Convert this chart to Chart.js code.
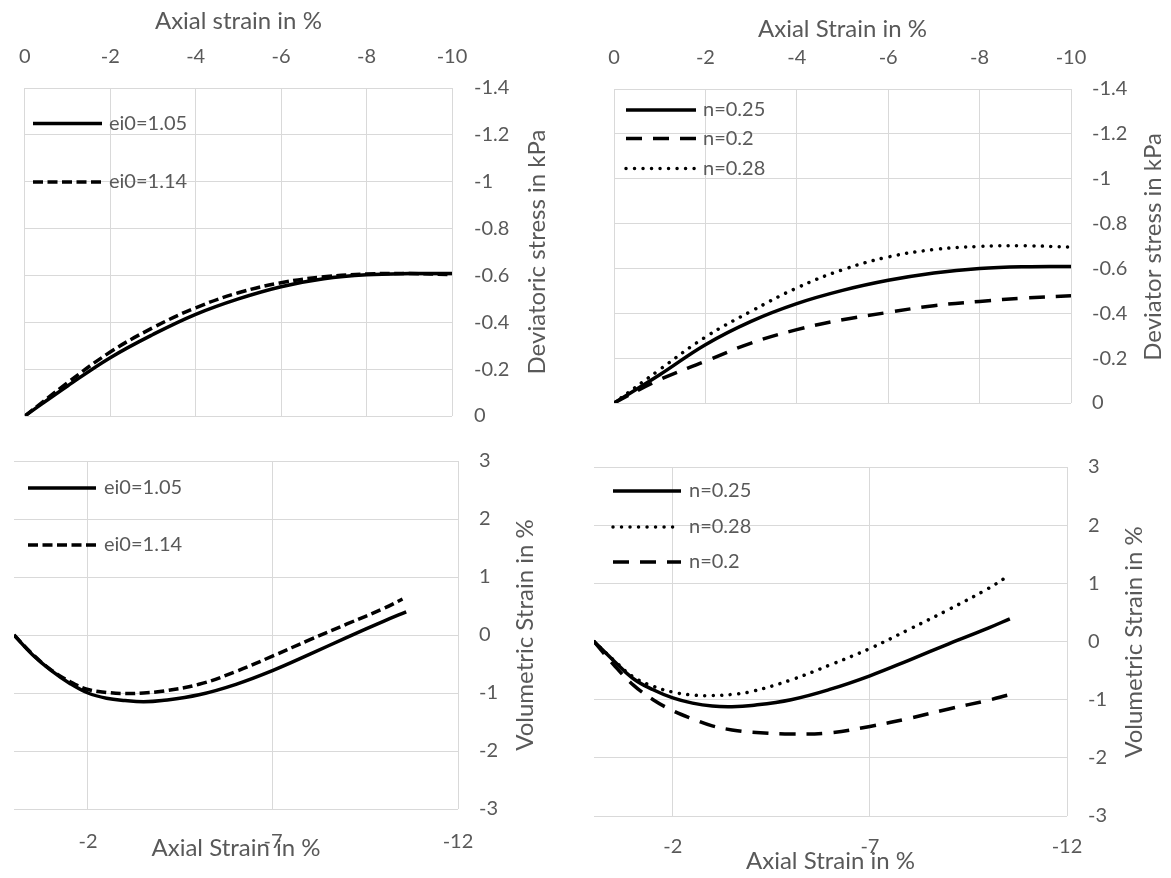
<!DOCTYPE html>
<html>
<head>
<meta charset="utf-8">
<script src="https://cdn.jsdelivr.net/npm/chart.js@4/dist/chart.umd.min.js"></script>
<style>
  html, body { margin: 0; padding: 0; background: #ffffff; }
  #wrap { position: relative; width: 1171px; height: 878px; overflow: hidden; }
  #wrap canvas { position: absolute; left: 0; top: 0; }
</style>
</head>
<body>
<div id="wrap">
  <canvas id="devEi" width="1171" height="878"></canvas>
  <canvas id="devN" width="1171" height="878"></canvas>
  <canvas id="volEi" width="1171" height="878"></canvas>
  <canvas id="volN" width="1171" height="878"></canvas>
</div>
<script>
// ---- Deviatoric stress vs axial strain, initial void ratio ----
const strainDevEi = [0, -1, -2, -3, -4, -5, -6, -7, -8, -9, -10];
const devEi105 = [0, -0.128, -0.249, -0.348, -0.434, -0.500, -0.552, -0.586, -0.603, -0.608, -0.608];
const devEi114 = [0, -0.142, -0.273, -0.377, -0.462, -0.526, -0.569, -0.594, -0.606, -0.608, -0.603];

// ---- Deviatoric stress vs axial strain, exponent n ----
const strainDevN = [0, -1, -2, -3, -4, -5, -6, -7, -8, -9, -10];
const devN025 = [0, -0.126, -0.260, -0.364, -0.443, -0.502, -0.547, -0.580, -0.600, -0.608, -0.609];
const devN020 = [0, -0.104, -0.186, -0.267, -0.327, -0.371, -0.404, -0.434, -0.453, -0.468, -0.478];
const devN028 = [0, -0.149, -0.294, -0.409, -0.513, -0.594, -0.651, -0.684, -0.698, -0.701, -0.695];

// ---- Volumetric strain vs axial strain, initial void ratio ----
const strainVolEi105 = [0, -0.5, -1, -1.5, -2, -2.5, -3, -3.5, -4, -5, -6, -7, -8, -9, -10, -10.6];
const volEi105 = [0, -0.34, -0.61, -0.83, -1.00, -1.09, -1.13, -1.15, -1.13, -1.03, -0.85, -0.61, -0.33, -0.04, 0.24, 0.40];
const strainVolEi114 = [0, -0.5, -1, -1.5, -2, -2.5, -3, -3.5, -4, -5, -6, -7, -8, -9, -10, -10.5];
const volEi114 = [0, -0.33, -0.60, -0.80, -0.94, -0.99, -1.01, -1.00, -0.97, -0.85, -0.63, -0.36, -0.08, 0.19, 0.46, 0.62];

// ---- Volumetric strain vs axial strain, exponent n ----
const strainVolN025 = [0, -0.5, -1, -1.5, -2, -2.5, -3, -3.5, -4, -5, -6, -7, -8, -9, -10, -10.55];
const volN025 = [0, -0.33, -0.64, -0.83, -0.97, -1.06, -1.11, -1.12, -1.10, -1.00, -0.82, -0.59, -0.32, -0.04, 0.23, 0.39];
const strainVolN028 = [0, -0.5, -1, -1.5, -2, -2.5, -3, -3.5, -4, -5, -6, -7, -8, -9, -10, -10.47];
const volN028 = [0, -0.32, -0.61, -0.77, -0.87, -0.92, -0.93, -0.91, -0.86, -0.66, -0.40, -0.12, 0.21, 0.55, 0.91, 1.11];
const strainVolN020 = [0, -0.5, -1, -1.5, -2, -2.5, -3, -3.5, -4, -5, -6, -7, -8, -9, -10, -10.5];
const volN020 = [0, -0.40, -0.75, -1.00, -1.19, -1.33, -1.45, -1.52, -1.56, -1.59, -1.57, -1.46, -1.32, -1.16, -1.01, -0.92];

// ---- Tick values ----
const strainTicksTop = [0, -2, -4, -6, -8, -10];
const devTicks = [0, -0.2, -0.4, -0.6, -0.8, -1, -1.2, -1.4];
const strainTicksBottom = [-2, -7, -12];
const volTicks = [-3, -2, -1, 0, 1, 2, 3];

const TEXT = '#595959';
const GRID = '#d9d9d9';
const FONT = 'Lato';
const TICK_SIZE = 20;
const TITLE_SIZE = 24;
const LEGEND_SIZE = 20;
const LINE_W = 3.5;

const SOLID = { borderDash: [], borderCapStyle: 'butt' };
const DASH = { borderDash: [10, 4.5], borderCapStyle: 'butt' };
const LONG_DASH = { borderDash: [16, 11], borderCapStyle: 'butt' };
const DOT = { borderDash: [0.01, 8.5], borderCapStyle: 'round' };

function pts(xs, ys) { return xs.map((x, i) => ({ x: x, y: ys[i] })); }
function fmt(v) { return String(Math.round(v * 10) / 10); }

function series(label, xs, ys, style) {
  return Object.assign({
    label: label,
    data: pts(xs, ys),
    showLine: true,
    borderColor: '#000000',
    backgroundColor: '#000000',
    borderWidth: LINE_W,
    pointRadius: 0,
    tension: 0.4,
    fill: false
  }, style);
}

// Right-hand axis title (reads upwards) and in-plot legend
const panelDecor = {
  id: 'panelDecor',
  afterDraw(chart, args, opts) {
    const ctx = chart.ctx;
    ctx.save();
    if (opts.sideTitle) {
      const t = opts.sideTitle;
      ctx.translate(t.x, t.y);
      ctx.rotate(-Math.PI / 2);
      ctx.fillStyle = TEXT;
      ctx.font = TITLE_SIZE + 'px ' + FONT;
      ctx.textAlign = 'center';
      ctx.textBaseline = 'middle';
      ctx.fillText(t.text, 0, 0);
      ctx.setTransform(1, 0, 0, 1, 0, 0);
    }
    if (opts.legend) {
      const L = opts.legend;
      chart.data.datasets.forEach((ds, i) => {
        const y = L.ys[i];
        ctx.beginPath();
        ctx.setLineDash(ds.borderDash || []);
        ctx.lineCap = ds.borderCapStyle || 'butt';
        ctx.lineWidth = ds.borderWidth;
        ctx.strokeStyle = ds.borderColor;
        ctx.moveTo(L.x1, y);
        ctx.lineTo(L.x2, y);
        ctx.stroke();
        ctx.setLineDash([]);
        ctx.fillStyle = TEXT;
        ctx.font = LEGEND_SIZE + 'px ' + FONT;
        ctx.textAlign = 'left';
        ctx.textBaseline = 'middle';
        ctx.fillText(ds.label, L.textX, y);
      });
    }
    ctx.restore();
  }
};

function makeChart(id, cfg) {
  const xTickVals = cfg.xTicks, yTickVals = cfg.yTicks;
  return new Chart(document.getElementById(id), {
    type: 'scatter',
    data: { datasets: cfg.datasets },
    options: {
      responsive: false,
      animation: false,
      events: [],
      layout: { padding: cfg.padding },
      plugins: {
        legend: { display: false },
        tooltip: { enabled: false },
        panelDecor: { sideTitle: cfg.sideTitle, legend: cfg.legend }
      },
      scales: {
        x: {
          type: 'linear',
          position: cfg.xPos,
          reverse: true,
          min: cfg.xMin, max: cfg.xMax,
          afterBuildTicks: s => { s.ticks = xTickVals.map(v => ({ value: v })); },
          afterFit: s => { s.height = cfg.xHeight; },
          grid: { color: GRID, lineWidth: 1, drawTicks: false },
          border: { display: false },
          ticks: {
            color: TEXT, font: { family: FONT, size: TICK_SIZE },
            padding: cfg.xTickPad, maxRotation: 0, autoSkip: false,
            callback: v => fmt(v)
          },
          title: {
            display: true, text: cfg.xTitle, color: TEXT,
            font: { family: FONT, size: TITLE_SIZE },
            padding: cfg.xTitlePad
          }
        },
        y: {
          type: 'linear',
          position: 'right',
          reverse: cfg.yReverse,
          min: cfg.yMin, max: cfg.yMax,
          afterBuildTicks: s => { s.ticks = yTickVals.map(v => ({ value: v })); },
          afterFit: s => { s.width = cfg.yWidth; },
          grid: { color: GRID, lineWidth: 1, drawTicks: false },
          border: { display: false },
          ticks: {
            color: TEXT, font: { family: FONT, size: TICK_SIZE },
            padding: cfg.yTickPad, autoSkip: false,
            callback: v => fmt(v)
          }
        }
      }
    },
    plugins: [panelDecor]
  });
}

// Top left: deviatoric stress, void ratio
makeChart('devEi', {
  datasets: [
    series('ei0=1.05', strainDevEi, devEi105, SOLID),
    series('ei0=1.14', strainDevEi, devEi114, DASH)
  ],
  padding: { left: 16, top: 0, right: 579, bottom: 462 },
  xPos: 'top', xMin: -10, xMax: 0, xTicks: strainTicksTop, xHeight: 88, xTickPad: 19,
  xTitle: 'Axial strain in %', xTitlePad: { top: 7, bottom: 0 },
  yMin: -1.4, yMax: 0, yReverse: true, yTicks: devTicks, yWidth: 140, yTickPad: 22,
  sideTitle: { text: 'Deviatoric stress in kPa', x: 537, y: 252 },
  legend: { x1: 33, x2: 102, textX: 109, ys: [123.5, 182] }
});

// Top right: deviator stress, exponent n
makeChart('devN', {
  datasets: [
    series('n=0.25', strainDevN, devN025, SOLID),
    series('n=0.2', strainDevN, devN020, LONG_DASH),
    series('n=0.28', strainDevN, devN028, DOT)
  ],
  padding: { left: 614, top: 0, right: 10, bottom: 475 },
  xPos: 'top', xMin: -10, xMax: 0, xTicks: strainTicksTop, xHeight: 89, xTickPad: 19,
  xTitle: 'Axial Strain in %', xTitlePad: { top: 15, bottom: 0 },
  yMin: -1.4, yMax: 0, yReverse: true, yTicks: devTicks, yWidth: 90, yTickPad: 21,
  sideTitle: { text: 'Deviator stress in kPa', x: 1153, y: 247 },
  legend: { x1: 626, x2: 696, textX: 703, ys: [110, 138.5, 168.5] }
});

// Bottom left: volumetric strain, void ratio
makeChart('volEi', {
  datasets: [
    series('ei0=1.05', strainVolEi105, volEi105, SOLID),
    series('ei0=1.14', strainVolEi114, volEi114, DASH)
  ],
  padding: { left: 14, top: 461, right: 613, bottom: 15 },
  xPos: 'bottom', xMin: -12, xMax: 0, xTicks: strainTicksBottom, xHeight: 54, xTickPad: 21,
  xTitle: 'Axial Strain in %', xTitlePad: { top: 0, bottom: 0 },
  yMin: -3, yMax: 3, yReverse: false, yTicks: volTicks, yWidth: 100, yTickPad: 21,
  sideTitle: { text: 'Volumetric Strain in %', x: 525, y: 635 },
  legend: { x1: 28, x2: 96, textX: 104, ys: [488, 545] }
});

// Bottom right: volumetric strain, exponent n
makeChart('volN', {
  datasets: [
    series('n=0.25', strainVolN025, volN025, SOLID),
    series('n=0.28', strainVolN028, volN028, DOT),
    series('n=0.2', strainVolN020, volN020, LONG_DASH)
  ],
  padding: { left: 594, top: 467, right: 4, bottom: 2 },
  xPos: 'bottom', xMin: -12, xMax: 0, xTicks: strainTicksBottom, xHeight: 60, xTickPad: 19,
  xTitle: 'Axial Strain in %', xTitlePad: { top: 0, bottom: 0 },
  yMin: -3, yMax: 3, yReverse: false, yTicks: volTicks, yWidth: 100, yTickPad: 21,
  sideTitle: { text: 'Volumetric Strain in %', x: 1134, y: 642 },
  legend: { x1: 613, x2: 681, textX: 689, ys: [491, 527, 562] }
});
</script>
</body>
</html>
